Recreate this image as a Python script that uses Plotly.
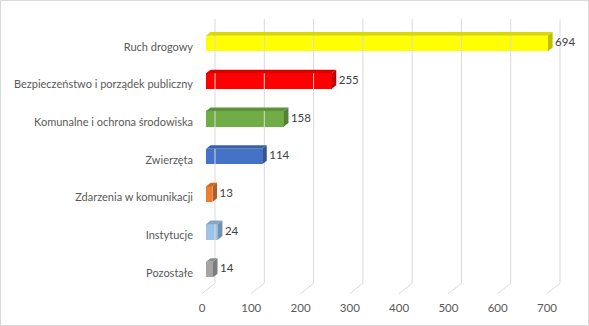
import plotly.graph_objects as go

categories = ["Ruch drogowy", "Bezpieczeństwo i porządek publiczny", "Komunalne i ochrona środowiska",
              "Zwierzęta", "Zdarzenia w komunikacji", "Instytucje", "Pozostałe"]
values = [694, 255, 158, 114, 13, 24, 14]
front_colors = ["#FFFF00", "#FF0000", "#70AD47", "#4472C4", "#ED7D31", "#9DC3E6", "#A5A5A5"]
top_colors = ["#D9D900", "#D90000", "#5F9238", "#3A61A7", "#C96A2A", "#85A6C4", "#8C8C8C"]
side_colors = ["#BFBF00", "#BF0000", "#54813A", "#335592", "#B15D24", "#7592AC", "#7C7C7C"]
x_ticks = [0, 100, 200, 300, 400, 500, 600, 700]

W, H = 589, 326
L, R, T, B = 200, 14, 19, 32
pxu = 0.4928          # pixels per x unit
ypx = 37.7            # pixels per category
y0px = 46.7           # pixel of first category label
xr = [(L - 206) / pxu, (W - R - 206) / pxu]
yr = [(H - B - y0px) / ypx, (T - y0px) / ypx]

bw = 15.5 / ypx
shift = -3.3 / ypx
dxu = 4.6 / pxu
dyu = 3.6 / ypx
lab_gap = 2.5 / pxu

fig = go.Figure()

# back-wall + floor gridlines
back = 18.3
front = -8.7
wall_bottom = (283.3 - y0px) / ypx
gx, gy = [], []
for t in x_ticks:
    gx += [t + back, t + back, t + front, None]
    gy += [yr[1], wall_bottom, yr[0] - 0.005, None]
fig.add_trace(go.Scatter(x=gx, y=gy, mode="lines", line=dict(color="#D9D9D9", width=1),
                         hoverinfo="skip", showlegend=False))

ys = list(range(len(categories)))
fig.add_trace(go.Bar(x=values, y=ys, orientation="h", width=bw, offset=shift - bw / 2,
                     marker=dict(color=front_colors, line=dict(width=0)), showlegend=False))

for i, v in enumerate(values):
    top = i + shift - bw / 2
    bot = i + shift + bw / 2
    fig.add_trace(go.Scatter(x=[0, v, v + dxu, dxu, 0], y=[top, top, top - dyu, top - dyu, top],
                             fill="toself", fillcolor=top_colors[i], mode="lines",
                             line=dict(width=0, color=top_colors[i]), hoverinfo="skip", showlegend=False))
    fig.add_trace(go.Scatter(x=[v, v, v + dxu, v + dxu, v], y=[top, bot, bot - dyu, top - dyu, top],
                             fill="toself", fillcolor=side_colors[i], mode="lines",
                             line=dict(width=0, color=side_colors[i]), hoverinfo="skip", showlegend=False))

fig.add_trace(go.Scatter(x=[v + dxu + lab_gap for v in values], y=[i + shift for i in ys],
                         text=[str(v) for v in values], mode="text", textposition="middle right",
                         textfont=dict(family="Lato", size=11.5, color="#404040"),
                         hoverinfo="skip", showlegend=False, cliponaxis=False))

pw = W - L - R
ph = H - T - B
fig.add_shape(type="rect", xref="paper", yref="paper",
              x0=(-L + 0.5) / pw, x1=(pw + R - 0.5) / pw,
              y0=(-B + 0.5) / ph, y1=(ph + T - 0.5) / ph,
              line=dict(color="#D9D9D9", width=1))

fig.update_layout(
    width=W, height=H, margin=dict(l=L, r=R, t=T, b=B),
    paper_bgcolor="white", plot_bgcolor="white",
    font=dict(family="Lato", size=11, color="#595959"),
    xaxis=dict(range=xr, tickvals=x_ticks, showgrid=False, zeroline=False, showline=False,
               automargin=False, ticklabelshift=-4, ticklabelstandoff=5, ticks="",
               tickfont=dict(size=11.5, color="#595959")),
    yaxis=dict(range=yr, tickvals=ys, ticktext=categories, showgrid=False, zeroline=False,
               automargin=False, showline=False, ticks="", ticklabelstandoff=6,
               tickfont=dict(size=11, color="#595959")),
    bargap=0,
)

fig.write_html("out.html")
